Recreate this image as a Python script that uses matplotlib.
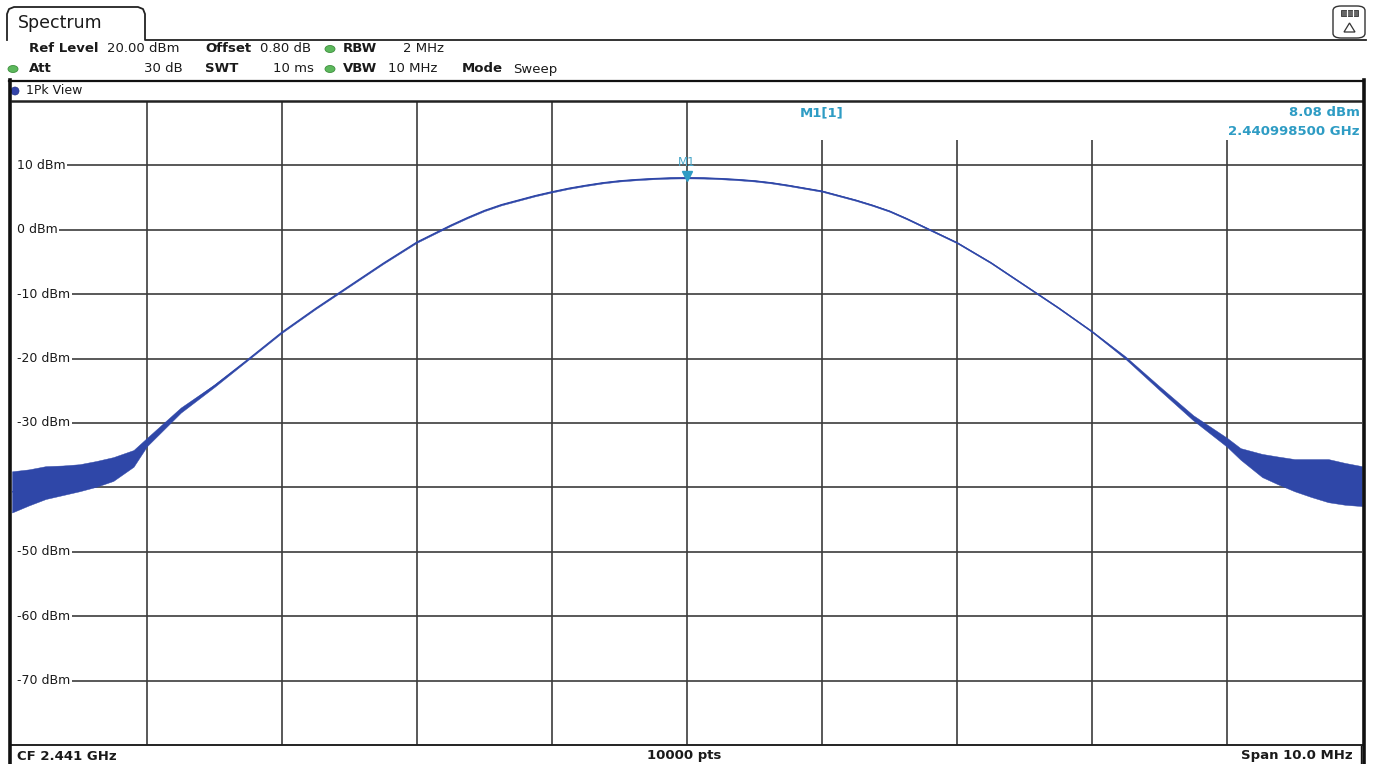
import matplotlib
matplotlib.use("Agg")
import matplotlib.pyplot as plt
from matplotlib.patches import FancyBboxPatch, Rectangle, Ellipse, Polygon
from matplotlib.lines import Line2D

# ---------------- data ----------------
freq_mhz = [-5.0, -4.875, -4.75, -4.625, -4.5, -4.375, -4.25, -4.1, -4.0, -3.75, -3.5, -3.25, -3.0,
            -2.75, -2.5, -2.25, -2.0, -1.875, -1.75, -1.625, -1.5, -1.375, -1.25, -1.125, -1.0,
            -0.875, -0.75, -0.625, -0.5, -0.375, -0.25, -0.125, 0.0,
            0.125, 0.25, 0.375, 0.5, 0.625, 0.75, 0.875, 1.0, 1.125, 1.25, 1.375, 1.5, 1.625,
            1.75, 1.875, 2.0, 2.25, 2.5, 2.75, 3.0, 3.25, 3.5, 3.75, 4.0, 4.1, 4.26, 4.375,
            4.5, 4.625, 4.75, 4.875, 5.0]
trace_dbm = [-40.7, -40.0, -39.3, -39.0, -38.5, -37.9, -37.2, -35.5, -32.9, -28.0, -24.2, -20.1, -15.9,
             -12.2, -8.7, -5.2, -1.9, -0.6, 0.7, 1.9, 3.0, 3.9, 4.6, 5.3, 5.9,
             6.45, 6.9, 7.3, 7.6, 7.8, 7.95, 8.05, 8.08,
             8.05, 7.95, 7.8, 7.6, 7.3, 6.9, 6.45, 6.0, 5.3, 4.6, 3.8, 2.9, 1.75,
             0.5, -0.75, -2.0, -5.1, -8.6, -12.1, -15.8, -19.9, -24.6, -29.2, -33.0, -34.8, -36.6, -37.4,
             -38.1, -38.6, -39.0, -39.4, -39.8]
trace_hi = [-37.5, -37.2, -36.7, -36.6, -36.4, -35.9, -35.3, -34.2, -32.3, -27.6, -24.0, -20.0, -15.8,
            -12.1, -8.6, -5.1, -1.8, -0.5, 0.8, 2.0, 3.1, 4.0, 4.7, 5.4, 6.0,
            6.55, 7.0, 7.4, 7.7, 7.9, 8.05, 8.15, 8.18,
            8.15, 8.05, 7.9, 7.7, 7.4, 7.0, 6.55, 6.1, 5.4, 4.7, 3.9, 3.0, 1.85,
            0.6, -0.65, -1.9, -5.0, -8.5, -12.0, -15.7, -19.7, -24.3, -28.8, -32.3, -33.9, -34.8, -35.2,
            -35.6, -35.6, -35.6, -36.2, -36.7]
trace_lo = [-43.9, -42.8, -41.8, -41.2, -40.6, -39.9, -39.0, -36.8, -33.6, -28.4, -24.4, -20.2, -16.0,
            -12.3, -8.8, -5.3, -2.0, -0.7, 0.6, 1.8, 2.9, 3.8, 4.5, 5.2, 5.8,
            6.35, 6.8, 7.2, 7.5, 7.7, 7.85, 7.95, 7.98,
            7.95, 7.85, 7.7, 7.5, 7.2, 6.8, 6.35, 5.9, 5.2, 4.5, 3.7, 2.8, 1.65,
            0.4, -0.85, -2.1, -5.2, -8.7, -12.2, -15.9, -20.1, -24.9, -29.6, -33.7, -35.7, -38.4, -39.5,
            -40.6, -41.5, -42.3, -42.7, -42.9]

y_ticks = [10, 0, -10, -20, -30, -40, -50, -60, -70]
y_tick_labels = ["10 dBm", "0 dBm", "-10 dBm", "-20 dBm", "-30 dBm", "-40 dBm",
                 "-50 dBm", "-60 dBm", "-70 dBm"]
x_grid = [-4, -3, -2, -1, 0, 1, 2, 3, 4]

marker_freq = 0.0
marker_level = 8.08
marker_label = "M1"
marker_info = ["M1[1]", "8.08 dBm", "2.440998500 GHz"]

header_row1 = [("Ref Level", True), ("20.00 dBm", False), ("Offset", True), ("0.80 dB", False),
               ("RBW", True), ("2 MHz", False)]
header_row2 = [("Att", True), ("30 dB", False), ("SWT", True), ("10 ms", False),
               ("VBW", True), ("10 MHz", False), ("Mode", True), ("Sweep", False)]
footer = ["CF 2.441 GHz", "10000 pts", "Span 10.0 MHz"]

# ---------------- figure ----------------
W, H = 1374, 764
fig = plt.figure(figsize=(W / 100, H / 100), dpi=100)
plt.rcParams['font.family'] = ['DejaVu Sans']


def fx(px):
    return px / W


def fy(py):
    return 1 - py / H


def ftext(px, py, s, **kw):
    fig.text(fx(px), fy(py), s, transform=fig.transFigure, **kw)


def fline(xs, ys, **kw):
    fig.add_artist(Line2D([fx(v) for v in xs], [fy(v) for v in ys], transform=fig.transFigure, **kw))


TXT = '#1a1a1a'
GRID = '#3c3c3c'
TRACE = '#2f47a8'
MARK = '#2e9cc4'

# tab "Spectrum"
tab_path = [(7, 40), (7, 14), (9, 9), (14, 7), (138, 7), (143, 9), (145, 14), (145, 40), (1366, 40)]
fline([p[0] for p in tab_path], [p[1] for p in tab_path], color='#222222', lw=1.3)
ftext(18, 23, "Spectrum", fontsize=12.5, va='center', ha='left', color=TXT)

# icon top-right
fig.add_artist(FancyBboxPatch((fx(1333), fy(38)), fx(32), 32 / H, boxstyle="round,pad=0,rounding_size=0.006",
                              transform=fig.transFigure, fc='white', ec='#333333', lw=1.0))
fig.add_artist(Rectangle((fx(1341), fy(16)), fx(17), 6 / H, transform=fig.transFigure,
                         fc='#666666', ec='#333333', lw=0.6))
for xx in (1346.5, 1352.5):
    fline([xx, xx], [10, 16], color='white', lw=0.8)
fig.add_artist(Polygon([(fx(1344), fy(32)), (fx(1355), fy(32)), (fx(1349.5), fy(23))], closed=True,
                       transform=fig.transFigure, fc='white', ec='#333333', lw=0.9))

# header rows
row1_x = [29, 107, 205, 260, 343, 403]
row2_x = [29, None, 205, None, 343, 388, 462, 513]
row2_right = {1: 183, 3: 314}
for (s, b), xx in zip(header_row1, row1_x):
    ftext(xx, 49, s, fontsize=9.5, fontweight='bold' if b else 'normal', va='center', ha='left',
          color=TXT)
for i, ((s, b), xx) in enumerate(zip(header_row2, row2_x)):
    if i in row2_right:
        ftext(row2_right[i], 69, s, fontsize=9.5, va='center', ha='right', color=TXT)
    else:
        ftext(xx, 69, s, fontsize=9.5, fontweight='bold' if b else 'normal', va='center', ha='left',
              color=TXT)
for (cx, cy) in [(330, 49), (13, 69), (330, 69)]:
    fig.add_artist(Ellipse((fx(cx), fy(cy)), 10 / W, 7 / H, transform=fig.transFigure,
                           fc='#5cb85c', ec='#3d8f3d', lw=0.6))

# panel frame
fline([9, 1364], [80.5, 80.5], color='#111111', lw=1.6)
fline([9.5, 9.5], [80, 764], color='#111111', lw=2.6)
fline([1364, 1364], [80, 764], color='#111111', lw=2.6)
fig.add_artist(Ellipse((fx(15), fy(91)), 8 / W, 8 / H, transform=fig.transFigure,
                       fc='#3344aa', ec='#223388', lw=0.5))
ftext(26, 91, "1Pk View", fontsize=9, va='center', ha='left', color=TXT)

# ---------------- axes ----------------
ax = fig.add_axes([fx(12), fy(745), 1350 / W, 644 / H])
ax.set_xlim(-5, 5)
ax.set_ylim(-80, 20)
ax.set_xticks([])
ax.set_yticks([])
for sp in ax.spines.values():
    sp.set_visible(False)

for xv in x_grid:
    ax.axvline(xv, color=GRID, lw=1.2, zorder=1)
for yv in y_ticks:
    ax.axhline(yv, color=GRID, lw=1.2, zorder=1)
ax.axhline(20, color='#222222', lw=1.8, zorder=7, clip_on=False)
ax.axhline(-80, color='#222222', lw=1.4, zorder=7, clip_on=False)

# white box behind marker info
ax.add_patch(Rectangle((0.53, 0.94), 0.47, 0.06, transform=ax.transAxes, fc='white', ec='none', zorder=2))
# white strip at the left edge (gridlines start after the level labels)
ax.add_patch(Rectangle((0.0, 0.0), 5 / 1350, 1.0, transform=ax.transAxes, fc='white', ec='none', zorder=2))

# y labels inside the plot
for yv, lab in zip(y_ticks, y_tick_labels):
    ax.text(5 / 1350, yv, lab, transform=ax.get_yaxis_transform(), fontsize=9, va='center', ha='left',
            color=TXT, zorder=3, bbox=dict(boxstyle='square,pad=0.12', fc='white', ec='none'))

# trace
ax.fill_between(freq_mhz, trace_lo, trace_hi, color=TRACE, lw=0.3, zorder=4)
ax.plot(freq_mhz, trace_dbm, color=TRACE, lw=0.9, zorder=5)

# marker
ax.plot([marker_freq], [marker_level + 0.3], marker='v', markersize=6.5, color=MARK, zorder=6)
ax.annotate(marker_label, (marker_freq, marker_level), xytext=(0, 6.5), textcoords='offset points',
            ha='center', va='bottom', fontsize=8.5, color='#4aa6c8', zorder=6)
ax.text(0.600, 0.982, marker_info[0], transform=ax.transAxes, fontsize=9.5, fontweight='bold',
        ha='center', va='center', color=MARK, zorder=6)
ax.text(0.9985, 0.982, marker_info[1], transform=ax.transAxes, fontsize=9.5, fontweight='bold',
        ha='right', va='center', color=MARK, zorder=6)
ax.text(0.9985, 0.952, marker_info[2], transform=ax.transAxes, fontsize=9.5, fontweight='bold',
        ha='right', va='center', color=MARK, zorder=6)

# footer
ftext(17, 756, footer[0], fontsize=9.5, fontweight='bold', va='center', ha='left', color=TXT)
ftext(684, 756, footer[1], fontsize=9.5, fontweight='bold', va='center', ha='center', color=TXT)
ftext(1353, 756, footer[2], fontsize=9.5, fontweight='bold', va='center', ha='right', color=TXT)
fline([1361, 1361], [746, 764], color='#111111', lw=1.0)

fig.savefig("out.png", dpi=100, facecolor='white')
